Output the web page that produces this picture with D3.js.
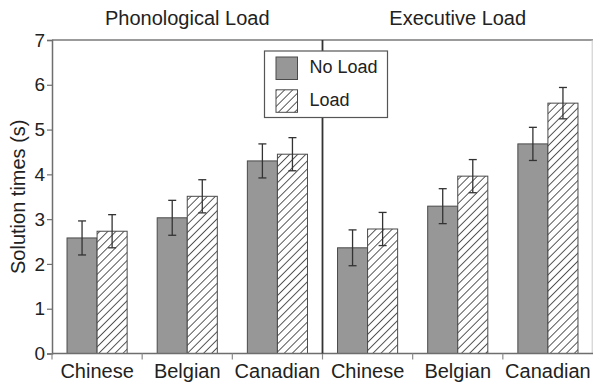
<!DOCTYPE html>
<html>
<head>
<meta charset="utf-8">
<script src="https://cdn.jsdelivr.net/npm/d3@7"></script>
<style>
  html, body { margin: 0; padding: 0; background: #fff; }
  svg { display: block; font-family: "Liberation Sans", Arial, Helvetica, sans-serif; }
</style>
</head>
<body>
<svg id="chart" width="593" height="383"></svg>
<script>
// Mean solution times (s) with error half-widths, per group and load condition
const panels = ["Phonological Load", "Executive Load"];
const groups = ["Chinese", "Belgian", "Canadian"];
const series = ["No Load", "Load"];

const phonoNoLoad = [2.58, 3.03, 4.30];
const phonoLoad   = [2.73, 3.51, 4.45];
const execNoLoad  = [2.36, 3.29, 4.68];
const execLoad    = [2.78, 3.96, 5.59];

const phonoNoLoadErr = [0.38, 0.39, 0.38];
const phonoLoadErr   = [0.37, 0.37, 0.37];
const execNoLoadErr  = [0.40, 0.39, 0.37];
const execLoadErr    = [0.37, 0.37, 0.35];

const yTicks = [0, 1, 2, 3, 4, 5, 6, 7];

// Flatten into one row per bar
const cells = [];
panels.forEach((p, pi) => {
  groups.forEach((g, gi) => {
    const vals = pi === 0 ? [phonoNoLoad[gi], phonoLoad[gi]] : [execNoLoad[gi], execLoad[gi]];
    const errs = pi === 0 ? [phonoNoLoadErr[gi], phonoLoadErr[gi]] : [execNoLoadErr[gi], execLoadErr[gi]];
    series.forEach((s, si) => {
      cells.push({ panel: p, key: p + "|" + g, group: g, series: s, value: vals[si], err: errs[si] });
    });
  });
});
const bandKeys = [];
panels.forEach(p => groups.forEach(g => bandKeys.push(p + "|" + g)));

const svg = d3.select("#chart");
const plotLeft = 52, plotRight = 593, plotTop = 40, plotBottom = 353.5;

const x0 = d3.scaleBand().domain(bandKeys).range([plotLeft, plotRight]).padding(0);
const x1 = d3.scaleBand().domain(series).range([0, x0.bandwidth()]).paddingInner(0).paddingOuter(0.5);
const y = d3.scaleLinear().domain([0, 7]).range([plotBottom, plotTop]);

// Diagonal hatch for the "Load" condition
const defs = svg.append("defs");
const pat = defs.append("pattern")
  .attr("id", "hatch")
  .attr("patternUnits", "userSpaceOnUse")
  .attr("width", 5.7).attr("height", 5.7)
  .attr("patternTransform", "rotate(45)");
pat.append("rect").attr("width", 5.7).attr("height", 5.7).attr("fill", "#fff");
pat.append("line")
  .attr("x1", 0).attr("y1", 0).attr("x2", 0).attr("y2", 5.7)
  .attr("stroke", "#000").attr("stroke-width", 1.3);

const fillFor = s => s === "No Load" ? "#979797" : "url(#hatch)";

// Frame: top and right edges
svg.append("line").attr("x1", plotLeft).attr("x2", plotRight).attr("y1", plotTop).attr("y2", plotTop)
  .attr("stroke", "#7a7a7a").attr("stroke-width", 1.5);
svg.append("line").attr("x1", 592.2).attr("x2", 592.2).attr("y1", plotTop).attr("y2", plotBottom)
  .attr("stroke", "#c8c8c8").attr("stroke-width", 1);

// Bars
svg.append("g").selectAll("rect").data(cells).join("rect")
  .attr("x", d => x0(d.key) + x1(d.series))
  .attr("y", d => y(d.value))
  .attr("width", x1.bandwidth())
  .attr("height", d => y(0) - y(d.value))
  .attr("fill", d => fillFor(d.series))
  .attr("stroke", "#4a4a4a")
  .attr("stroke-width", 1);

// Error bars
const eb = svg.append("g").attr("stroke", "#333").attr("stroke-width", 1.3);
cells.forEach(d => {
  const cx = x0(d.key) + x1(d.series) + x1.bandwidth() / 2;
  const yHi = y(d.value + d.err), yLo = y(d.value - d.err);
  eb.append("line").attr("x1", cx).attr("x2", cx).attr("y1", yHi).attr("y2", yLo);
  eb.append("line").attr("x1", cx - 4).attr("x2", cx + 4).attr("y1", yHi).attr("y2", yHi);
  eb.append("line").attr("x1", cx - 4).attr("x2", cx + 4).attr("y1", yLo).attr("y2", yLo);
});

// Y axis
const yAxis = svg.append("g")
  .attr("transform", `translate(${plotLeft},0)`)
  .call(d3.axisLeft(y).tickValues(yTicks).tickFormat(d3.format("d")).tickSize(5).tickPadding(2));
yAxis.select(".domain").attr("stroke", "#6e6e6e").attr("stroke-width", 1.5);
yAxis.selectAll(".tick line").attr("stroke", "#6e6e6e").attr("stroke-width", 1.2);
yAxis.selectAll(".tick text").attr("font-size", "19px").attr("fill", "#222")
  .attr("font-family", "'Liberation Sans', Arial, sans-serif");

// X axis: category labels with ticks at band boundaries
const xAxis = svg.append("g").attr("transform", `translate(0,${plotBottom})`);
xAxis.append("line").attr("x1", plotLeft).attr("x2", plotRight).attr("y1", 0).attr("y2", 0)
  .attr("stroke", "#6e6e6e").attr("stroke-width", 1.5);
xAxis.selectAll("line.tk").data(bandKeys).join("line").attr("class", "tk")
  .attr("x1", d => x0(d)).attr("x2", d => x0(d)).attr("y1", 0).attr("y2", 6)
  .attr("stroke", "#8a8a8a").attr("stroke-width", 1.2);
xAxis.selectAll("text").data(bandKeys).join("text")
  .attr("x", d => x0(d) + x0.bandwidth() / 2)
  .attr("y", 24.5)
  .attr("text-anchor", "middle")
  .attr("font-size", "20px")
  .attr("fill", "#222")
  .text(d => d.split("|")[1]);

// Divider between the two panels
const divX = x0(panels[1] + "|" + groups[0]);
svg.append("line").attr("x1", divX).attr("x2", divX).attr("y1", plotTop).attr("y2", plotBottom)
  .attr("stroke", "#333").attr("stroke-width", 1.8);

// Panel titles
panels.forEach((p, pi) => {
  const a = x0(p + "|" + groups[0]);
  const b = x0(p + "|" + groups[groups.length - 1]) + x0.bandwidth();
  svg.append("text")
    .attr("x", (a + b) / 2).attr("y", 25)
    .attr("text-anchor", "middle")
    .attr("font-size", "20px")
    .attr("fill", "#222")
    .text(p);
});

// Y axis title
svg.append("text")
  .attr("transform", `translate(25,${(plotTop + plotBottom) / 2}) rotate(-90)`)
  .attr("text-anchor", "middle")
  .attr("font-size", "20px")
  .attr("fill", "#222")
  .text("Solution times (s)");

// Legend
const lg = svg.append("g").attr("transform", "translate(264.5,51)");
lg.append("rect").attr("width", 123).attr("height", 66.5)
  .attr("fill", "#fff").attr("stroke", "#555").attr("stroke-width", 1.2);
series.forEach((s, i) => {
  const row = lg.append("g").attr("transform", `translate(11.5,${6 + i * 32.8})`);
  row.append("rect").attr("width", 21.5).attr("height", 22.5)
    .attr("fill", fillFor(s)).attr("stroke", "#4a4a4a").attr("stroke-width", 1);
  row.append("text").attr("x", 33.5).attr("y", 16)
    .attr("font-size", "18px").attr("fill", "#222").text(s);
});
</script>
</body>
</html>
